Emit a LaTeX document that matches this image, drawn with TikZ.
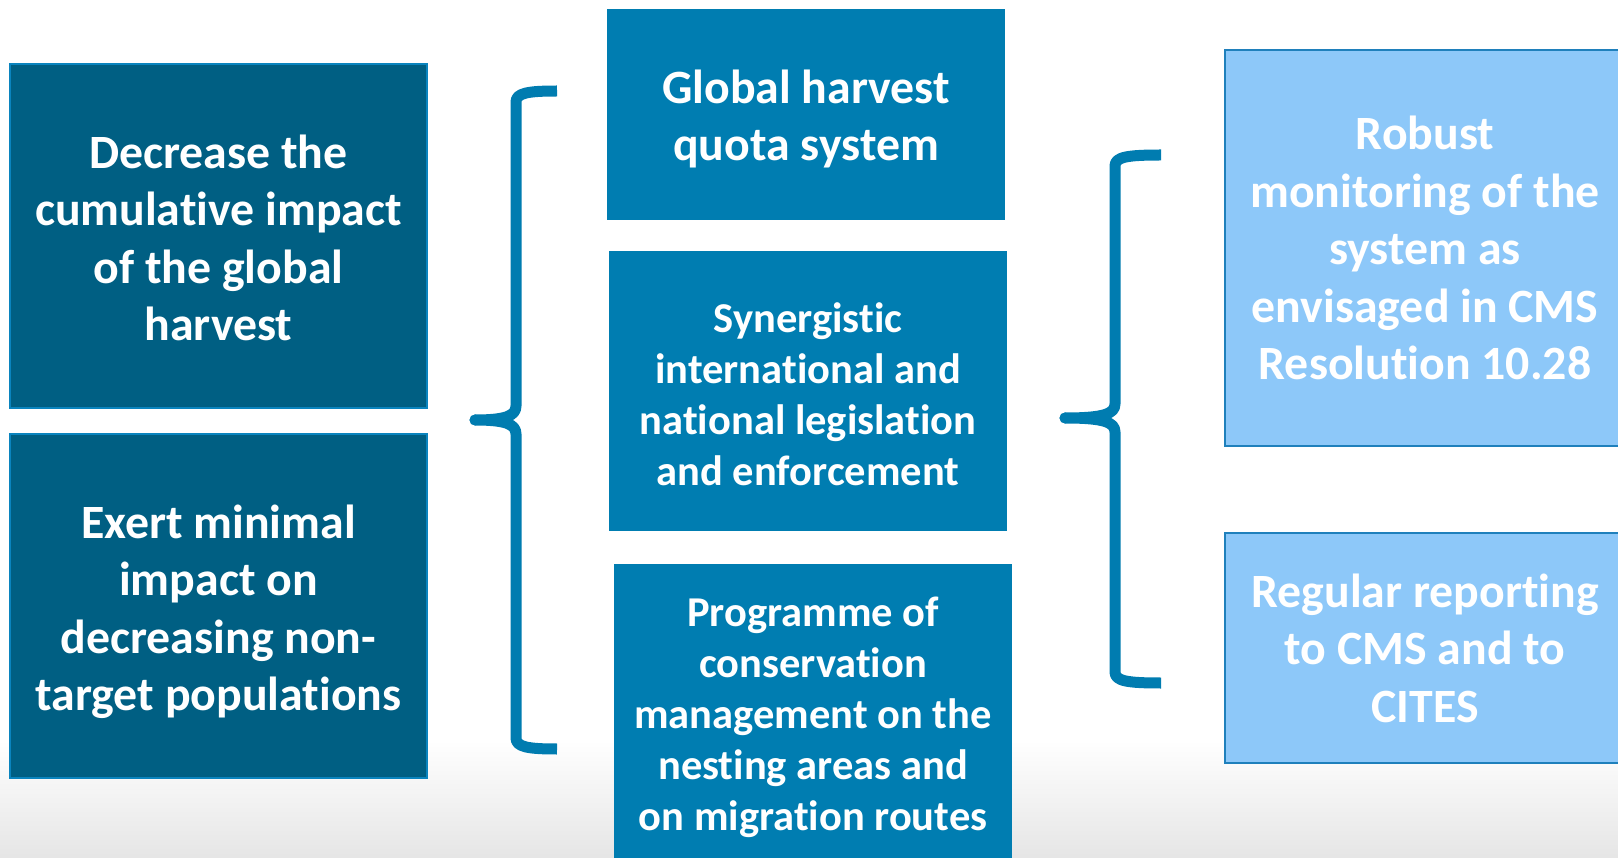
\documentclass[tikz,border=0pt]{standalone}
\usepackage{fontspec}
\setmainfont[Ligatures={NoCommon},RawFeature={-liga;-clig;-calt}]{Carlito}
\definecolor{darkbox}{HTML}{005F83}
\definecolor{darkedge}{HTML}{0A84BE}
\definecolor{midbox}{HTML}{007DB1}
\definecolor{lightbox}{HTML}{8DC8F9}
\definecolor{lightedge}{HTML}{1F80BC}
\definecolor{bracecol}{HTML}{007CB0}
\tikzset{
  boxbase/.style={rectangle, inner sep=0pt, align=center, text=white, font=\bfseries},
  bigtext/.style={font=\fontsize{47.8}{57.5}\selectfont\bfseries},
  smalltext/.style={font=\fontsize{42.5}{51}\selectfont\bfseries},
  darkstyle/.style={boxbase, bigtext, fill=darkbox, draw=darkedge, line width=2pt},
  midstyle/.style={boxbase, fill=midbox},
  lightstyle/.style={boxbase, bigtext, fill=lightbox, draw=lightedge, line width=2pt},
  bracestyle/.style={draw=bracecol, line width=11pt, line cap=butt, line join=round}
}
\begin{document}
\begin{tikzpicture}[x=1pt,y=-1pt]
\useasboundingbox (0,0) rectangle (1618,858);
\fill[white] (0,0) rectangle (1618,858);
\shade[top color=white, bottom color=black!10] (0,740) rectangle (1618,858);

% left boxes
\node[darkstyle, minimum width=417pt, minimum height=344pt] (l1) at (218.5,236) {};
\node[boxbase, bigtext] (l1t) at (218.5,238) {Decrease the\\cumulative impact\\of the global\\harvest};
\node[darkstyle, minimum width=417pt, minimum height=344pt] (l2) at (218.5,606) {};
\node[boxbase, bigtext] (l2t) at (218.5,612) {Exert minimal\\impact on\\decreasing non-\\target populations};

% middle boxes
\node[midstyle, bigtext, minimum width=398pt, minimum height=211pt] (ma) at (806,114.5) {};
\node[midstyle, bigtext] (mat) at (806,119) {Global harvest\\quota system};
\node[midstyle, smalltext, minimum width=398pt, minimum height=280pt] (mb) at (808,391) {};
\node[midstyle, smalltext] (mbt) at (808,394) {Synergistic\\international and\\national legislation\\and enforcement};
\node[midstyle, smalltext, minimum width=398pt, minimum height=300pt] (mc) at (813,714) {};
\node[midstyle, smalltext] (mct) at (813,717) {Programme of\\conservation\\management on the\\nesting areas and\\on migration routes};

% right boxes
\node[lightstyle, minimum width=400pt, minimum height=396pt] (r1) at (1425,248)
  {Robust\\monitoring of the\\system as\\envisaged in CMS\\Resolution 10.28};
\node[lightstyle, minimum width=400pt, minimum height=230pt] (r2) at (1425,648)
  {Regular reporting\\to CMS and to\\CITES};

% left brace
\coordinate (lbt) at (557,91);
\coordinate (lbtip) at (475,420);
\coordinate (lbb) at (557,749);
\draw[bracestyle] (lbt) .. controls (528,91) and (516,93) .. (516,102)
  -- (516,406) .. controls (516,416) and (505,420) .. (lbtip)
  .. controls (505,420) and (516,424) .. (516,434)
  -- (516,738) .. controls (516,747) and (528,749) .. (lbb);
\fill[bracecol] (lbtip) circle (5.5pt);

% right brace
\coordinate (rbt) at (1161,155);
\coordinate (rbtip) at (1065,418);
\coordinate (rbb) at (1161,683);
\draw[bracestyle] (rbt) .. controls (1127,155) and (1115,157) .. (1115,166)
  -- (1115,404) .. controls (1115,414) and (1103,418) .. (rbtip)
  .. controls (1103,418) and (1115,422) .. (1115,432)
  -- (1115,672) .. controls (1115,681) and (1127,683) .. (rbb);
\fill[bracecol] (rbtip) circle (5.5pt);
\end{tikzpicture}
\end{document}
